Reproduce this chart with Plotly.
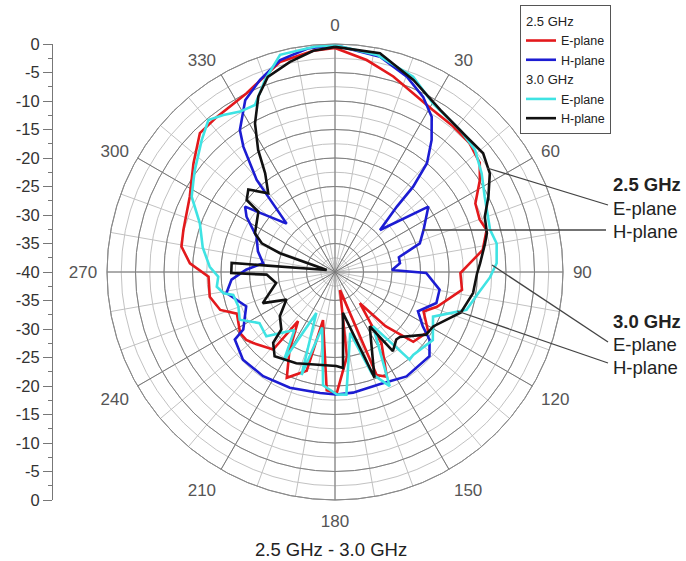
import plotly.graph_objects as go
import numpy as np

W, H = 686, 561

# ---------------- data (angle in degrees, level in dB) ----------------
e25_theta = [0, 8.5, 16.6, 23.7, 31, 39, 46, 53, 57.6, 64, 70, 74.5, 81.5, 87.7, 90.5, 98, 108.8, 114,
             122.6, 131.7, 137, 141.5, 147, 153.7, 158, 164.5, 172, 179.2, 184, 194, 196, 204.5, 210,
             216.9, 218.6, 229, 232.6, 237.2, 247, 251.7, 258.8, 267.9, 273.4, 279.4, 285.5, 297.4,
             307.5, 315.8, 322.7, 333.7, 345.3, 354.4]
e25_db = [-0.7, -2.4, -4.2, -5.8, -6.8, -7.1, -7.3, -8.2, -9.9, -12.6, -13, -12.4, -13.8, -16.9, -18, -17.5,
          -21.1, -23, -20.6, -21.6, -27, -33, -25, -19.5, -20.5, -36.7, -25, -18.7, -19.2, -31.3, -22, -19.6,
          -24, -29.2, -22.6, -21, -20.4, -20.2, -21.3, -18.8, -17.6, -17.8, -14.5, -12.7, -12.4, -11.3,
          -8.7, -6, -5.8, -5, -1.9, -1.0]

h25_theta = [0, 11.8, 20.2, 26.7, 31.9, 36.2, 40.2, 42.5, 43.4, 47, 55, 64.6, 71.4, 77, 82.4, 88, 90.6,
             99.6, 107, 115.3, 121.7, 125.6, 131.7, 145.6, 158.4, 171.5, 179.4, 187, 201.3, 214.6, 226.4,
             236, 237.9, 248.9, 259, 265.8, 271.5, 276.9, 285, 294.3, 302, 306, 315, 319.6, 323.8, 326.2,
             332.4, 338.7, 345.5, 353]
h25_db = [-0.2, -1.4, -3.5, -5.6, -7.9, -11.3, -15, -19.7, -24.2, -29.2, -20, -22.8, -24.3, -28.5, -28.5,
          -30, -24, -21.4, -21.4, -23.9, -21.9, -19.6, -17.8, -17.8, -18.8, -18.6, -18.5, -18.6, -18.2,
          -17.8, -17.7, -18.8, -21, -23.3, -20.6, -21.8, -24.4, -27.3, -26, -24.9, -21.7, -20.5, -28,
          -18.8, -12.8, -10, -6, -3.8, -1.6, -0.5]

e30_theta = [0, 11, 21.8, 30.2, 41.4, 48.9, 56.1, 63.3, 74.8, 80, 86.9, 92, 98.4, 106, 114.5, 124.8,
             136.7, 139.6, 145, 154.4, 160, 166, 174.7, 179, 186, 193, 198, 204.5, 210, 215, 226.9, 235.9,
             243.4, 250.3, 257.3, 259.2, 262.9, 267.7, 272.4, 280.5, 289.8, 297.7, 303, 306, 314.7, 320.2,
             324.6, 329.4, 334.4, 340, 345.8, 355]
e30_db = [-0.2, -1.2, -3.1, -5.8, -6.8, -7.4, -9, -10.6, -11.8, -11.2, -11.6, -12.8, -14.6, -16, -21.1,
          -19.1, -20, -19.8, -28.4, -17.8, -21, -29, -18.4, -18.5, -20, -30, -21, -32.1, -22, -27.6, -23.5,
          -24, -21.3, -22, -21.7, -20.1, -19.1, -19.5, -18, -16.4, -14.8, -11.6, -10.4, -9.6, -7.1, -5.3,
          -6.2, -7.3, -7.5, -4.1, -0.7, -0.3]

h30_theta = [0, 11.6, 22.2, 33, 44.2, 51.3, 57.5, 63.8, 69.8, 75.7, 79.2, 86.6, 90.8, 98.7, 107.8, 119,
             124.5, 135, 137.8, 143.8, 147.4, 159.5, 169, 175.2, 179.2, 203, 215.6, 221.1, 223, 231.3, 240.4,
             246.7, 259.4, 267.8, 269.4, 275, 283.5, 288.8, 291.4, 295.8, 308.2, 309.2, 313.6, 319.7, 324.7,
             327.8, 331.7, 336.4, 341, 347.9, 354.4]
h30_db = [-0.5, -0.8, -3.6, -6.1, -6.9, -6.7, -7.8, -10, -12, -12.5, -13.2, -14.5, -15.1, -15.5, -16.8,
          -20.3, -20.6, -23.9, -24, -22.8, -28.7, -20.2, -32.7, -23.1, -23.5, -22.6, -21.8, -23.5, -26.2,
          -27.6, -30.2, -26.2, -29.5, -28, -21.8, -21.8, -38.5, -29.8, -26.2, -24.4, -22.9, -20, -19, -21.9,
          -18.8, -14.7, -10.4, -6.4, -3.8, -2.3, -1.0]

angle_ticks = list(range(0, 360, 30))
angle_text = [str(a) for a in angle_ticks]
left_vals = list(range(-40, 41, 5))
left_text = [str(int(abs(v) - 40)) for v in left_vals]

FONT = "Liberation Sans, Arial, sans-serif"

def closed(a):
    return list(a) + [a[0]]

fig = go.Figure()

# invisible trace so that the background (fine) grid layer is drawn
fig.add_trace(go.Scatterpolar(r=[-40], theta=[0], mode="markers", marker=dict(opacity=0),
                              showlegend=False, hoverinfo="skip", subplot="polar"))

series = [
    (e25_theta, e25_db, "E-plane", "#e3191c", "g25", "2.5 GHz"),
    (h25_theta, h25_db, "H-plane", "#1c1cd2", "g25", "2.5 GHz"),
    (e30_theta, e30_db, "E-plane", "#3fe3e3", "g30", "3.0 GHz"),
    (h30_theta, h30_db, "H-plane", "#111111", "g30", "3.0 GHz"),
]
for th, rr, name, col, grp, gt in series:
    fig.add_trace(go.Scatterpolar(
        theta=closed(th), r=closed(rr), mode="lines", name=name,
        line=dict(color=col, width=2.6), legendgroup=grp,
        legendgrouptitle=dict(text=gt, font=dict(size=13, color="#222", family=FONT)),
        subplot="polar2"))

# invisible trace to display the left level scale
fig.add_trace(go.Scatter(x=[0.5], y=[0], mode="markers", marker=dict(opacity=0),
                         showlegend=False, hoverinfo="skip", xaxis="x", yaxis="y"))

dom_x = [107 / W, 563 / W]
dom_y = [1 - 500 / H, 1 - 44 / H]

fig.update_layout(
    width=W, height=H, margin=dict(l=0, r=0, t=0, b=0, autoexpand=False),
    paper_bgcolor="white", plot_bgcolor="white",
    font=dict(family=FONT),
    polar=dict(
        domain=dict(x=dom_x, y=dom_y), bgcolor="white",
        angularaxis=dict(rotation=90, direction="clockwise", tickvals=list(range(0, 360, 10)),
                         showticklabels=False, ticks="", gridcolor="#c2c2c2", gridwidth=1,
                         showline=True, linecolor="#8a8a8a", linewidth=1),
        radialaxis=dict(range=[-40, 0], tickvals=list(np.arange(-37.5, 0, 2.5)), showticklabels=False,
                        ticks="", gridcolor="#c2c2c2", gridwidth=1, showline=False),
    ),
    polar2=dict(
        domain=dict(x=dom_x, y=dom_y), bgcolor="rgba(0,0,0,0)",
        angularaxis=dict(rotation=90, direction="clockwise", tickvals=angle_ticks, ticktext=angle_text,
                         ticks="outside", ticklen=6, tickcolor="rgba(0,0,0,0)",
                         tickfont=dict(size=17, color="#555", family=FONT),
                         gridcolor="#777777", gridwidth=1, showline=True, linecolor="#8a8a8a", linewidth=1),
        radialaxis=dict(range=[-40, 0], tickvals=list(range(-35, 1, 5)), showticklabels=False,
                        ticks="", gridcolor="#808080", gridwidth=1, showline=False),
    ),
    xaxis=dict(domain=[53 / W, 60 / W], visible=False, range=[0, 1], fixedrange=True),
    yaxis=dict(domain=dom_y, range=[-40, 40], anchor="x", side="left", showline=True, automargin=False,
               linecolor="#777", linewidth=1, ticks="outside", ticklen=9, tickcolor="#777",
               tickvals=left_vals, ticktext=left_text, showgrid=False, zeroline=False,
               tickfont=dict(size=16.5, color="#333", family=FONT),
               minor=dict(tickvals=list(np.arange(-37.5, 40, 5)), ticks="outside", ticklen=4,
                          tickcolor="#777", showgrid=False)),
    legend=dict(x=520 / W, y=1 - 5 / H, xanchor="left", yanchor="top",
                bgcolor="white", bordercolor="#555", borderwidth=1,
                font=dict(size=12.5, color="#222", family=FONT), tracegroupgap=0),
    showlegend=True,
)

def P(x, y):
    return x / W, 1 - y / H

# leader lines for callouts
leaders = [((487, 168), (608, 205)), ((423, 230), (606, 230)),
           ((492, 265), (608, 342)), ((457, 311), (608, 363))]
for (x0, y0), (x1, y1) in leaders:
    a, b = P(x0, y0)
    c, d = P(x1, y1)
    fig.add_shape(type="line", xref="paper", yref="paper", x0=a, y0=b, x1=c, y1=d,
                  line=dict(color="#444", width=1.3))

callouts = [("<b>2.5 GHz</b>", 184), ("E-plane", 208), ("H-plane", 231),
            ("<b>3.0 GHz</b>", 321), ("E-plane", 344), ("H-plane", 367)]
for txt, yy in callouts:
    a, b = P(611, yy)
    fig.add_annotation(text=txt, x=a, y=b, xref="paper", yref="paper", xanchor="left", yanchor="middle",
                       showarrow=False, font=dict(size=18.5, color="#222", family=FONT))

a, b = P(331, 549)
fig.add_annotation(text="2.5 GHz - 3.0 GHz", x=a, y=b, xref="paper", yref="paper", showarrow=False,
                   xanchor="center", yanchor="middle", font=dict(size=18.5, color="#222", family=FONT))

fig.write_html("out.html", config={"displayModeBar": False},
               post_script="document.body.style.margin='0px';")
